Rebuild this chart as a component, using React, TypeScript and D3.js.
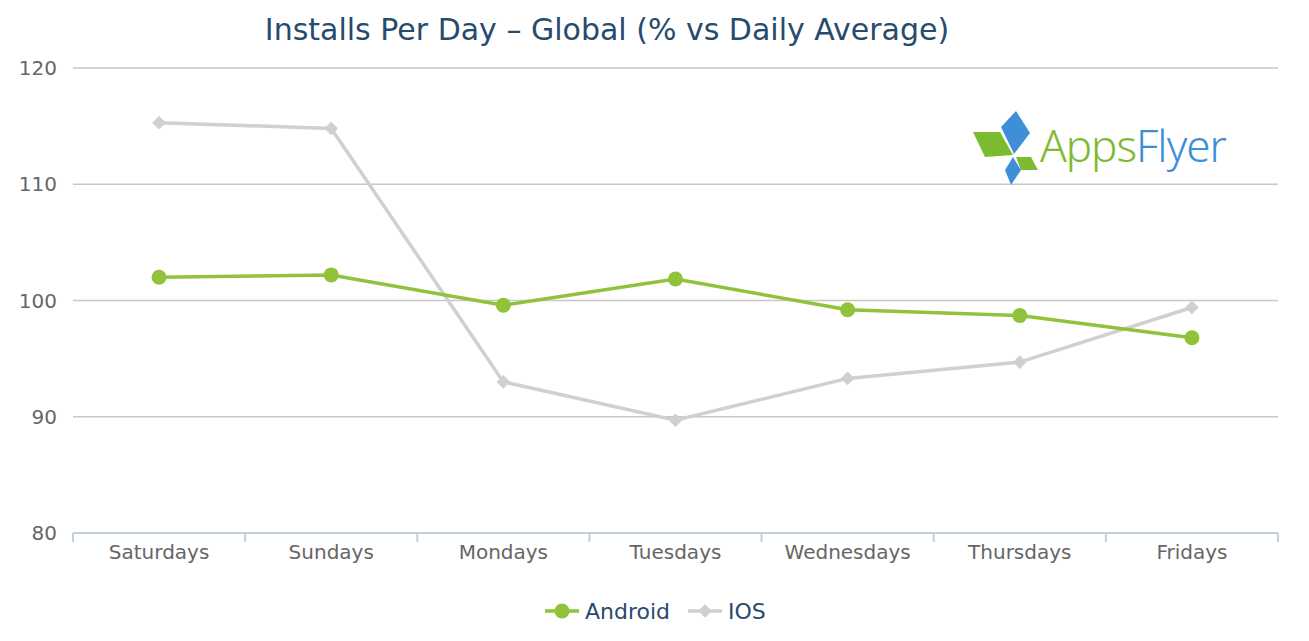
import * as d3 from 'd3';
import React, { useEffect, useRef } from 'react';

const days = ['Saturdays', 'Sundays', 'Mondays', 'Tuesdays', 'Wednesdays', 'Thursdays', 'Fridays'];
const android = [102.0, 102.2, 99.6, 101.85, 99.2, 98.7, 96.8];
const ios = [115.3, 114.8, 93.0, 89.7, 93.3, 94.7, 99.4];
const yTicks = [80, 90, 100, 110, 120];

const W = 1309, H = 641;
const FONT = '"DejaVu Sans", "Open Sans", sans-serif';

export default function App() {
  const ref = useRef<SVGSVGElement>(null);

  useEffect(() => {
    const svg = d3.select(ref.current);
    svg.selectAll('*').remove();

    const margin = { top: 68, left: 73, right: 31, bottom: 108 };
    const x = d3.scaleBand().domain(days).range([margin.left, W - margin.right]);
    const y = d3.scaleLinear().domain([80, 120]).range([H - margin.bottom, margin.top]);

    // title
    svg.append('text')
      .attr('x', 607).attr('y', 40)
      .attr('text-anchor', 'middle')
      .attr('font-family', FONT).attr('font-size', 30)
      .attr('fill', '#274b6d')
      .text('Installs Per Day – Global (% vs Daily Average)');

    // grid + y labels
    const grid = svg.append('g');
    grid.selectAll('line').data(yTicks.filter(t => t !== 80)).enter().append('line')
      .attr('x1', margin.left).attr('x2', W - margin.right)
      .attr('y1', d => y(d)).attr('y2', d => y(d))
      .attr('stroke', '#c8c8c8').attr('stroke-width', 1.5);
    grid.selectAll('text').data(yTicks).enter().append('text')
      .attr('x', 57).attr('y', d => y(d) + 7)
      .attr('text-anchor', 'end')
      .attr('font-family', FONT).attr('font-size', 20)
      .attr('fill', '#666')
      .text(d => d);

    // x axis
    const xAxis = svg.append('g').attr('transform', `translate(0,${y(80)})`);
    xAxis.append('line')
      .attr('x1', margin.left).attr('x2', W - margin.right)
      .attr('stroke', '#c0d0e0').attr('stroke-width', 2);
    const bounds = days.map(d => x(d) as number).concat([W - margin.right]);
    xAxis.selectAll('line.tick').data(bounds).enter().append('line')
      .attr('class', 'tick')
      .attr('x1', d => d).attr('x2', d => d)
      .attr('y1', 0).attr('y2', 9)
      .attr('stroke', '#c0d0e0').attr('stroke-width', 2);
    xAxis.selectAll('text').data(days).enter().append('text')
      .attr('x', d => (x(d) as number) + x.bandwidth() / 2)
      .attr('y', 26)
      .attr('text-anchor', 'middle')
      .attr('font-family', FONT).attr('font-size', 20)
      .attr('fill', '#666')
      .text(d => d);

    // logo
    const logo = svg.append('g');
    logo.append('polygon').attr('points', '973,132 1000,132 1013,155 985,157').attr('fill', '#7cbb2f');
    logo.append('polygon').attr('points', '1016,157 1031,157 1038,170 1021,170').attr('fill', '#7cbb2f');
    logo.append('polygon').attr('points', '1016,111 1030,133 1014,154 1001,127').attr('fill', '#3f8fd8');
    logo.append('polygon').attr('points', '1013,157 1021,170 1011,185 1005,170').attr('fill', '#3f8fd8');
    logo.append('text')
      .attr('x', 1040).attr('y', 162)
      .attr('font-family', '"Noto Sans", sans-serif').attr('font-size', 44)
      .attr('font-weight', 300).attr('letter-spacing', -1)
      .call(t => {
        t.append('tspan').attr('fill', '#7cbb2f').text('Apps');
        t.append('tspan').attr('fill', '#3f8fd8').text('Flyer');
      });

    const cx = (d: string) => (x(d) as number) + x.bandwidth() / 2;
    const line = d3.line<number>().x((_, i) => cx(days[i])).y(v => y(v));

    // iOS
    svg.append('path').datum(ios)
      .attr('d', line).attr('fill', 'none')
      .attr('stroke', '#d0d0d0').attr('stroke-width', 3.5);
    const diamond = d3.symbol().type(d3.symbolDiamond2).size(120);
    svg.selectAll('path.ios').data(ios).enter().append('path')
      .attr('class', 'ios')
      .attr('d', diamond)
      .attr('transform', (v, i) => `translate(${cx(days[i])},${y(v)})`)
      .attr('fill', '#d0d0d0');

    // Android
    svg.append('path').datum(android)
      .attr('d', line).attr('fill', 'none')
      .attr('stroke', '#90c33a').attr('stroke-width', 3.5);
    svg.selectAll('circle.android').data(android).enter().append('circle')
      .attr('class', 'android')
      .attr('cx', (_, i) => cx(days[i])).attr('cy', v => y(v))
      .attr('r', 7.5).attr('fill', '#90c33a');

    // legend
    const lg = svg.append('g').attr('transform', 'translate(0,611)');
    lg.append('line').attr('x1', 545).attr('x2', 579).attr('stroke', '#90c33a').attr('stroke-width', 3.5);
    lg.append('circle').attr('cx', 562).attr('r', 7.5).attr('fill', '#90c33a');
    lg.append('text').attr('x', 585).attr('y', 8)
      .attr('font-family', FONT).attr('font-size', 22).attr('fill', '#274b6d').text('Android');
    lg.append('line').attr('x1', 688).attr('x2', 722).attr('stroke', '#d0d0d0').attr('stroke-width', 3.5);
    lg.append('path').attr('d', diamond).attr('transform', 'translate(705,0)').attr('fill', '#d0d0d0');
    lg.append('text').attr('x', 728).attr('y', 8)
      .attr('font-family', FONT).attr('font-size', 22).attr('fill', '#274b6d').text('IOS');
  }, []);

  return (
    <svg ref={ref} width={W} height={H}
      style={{ position: 'absolute', left: 0, top: 0, background: '#fff' }} />
  );
}
